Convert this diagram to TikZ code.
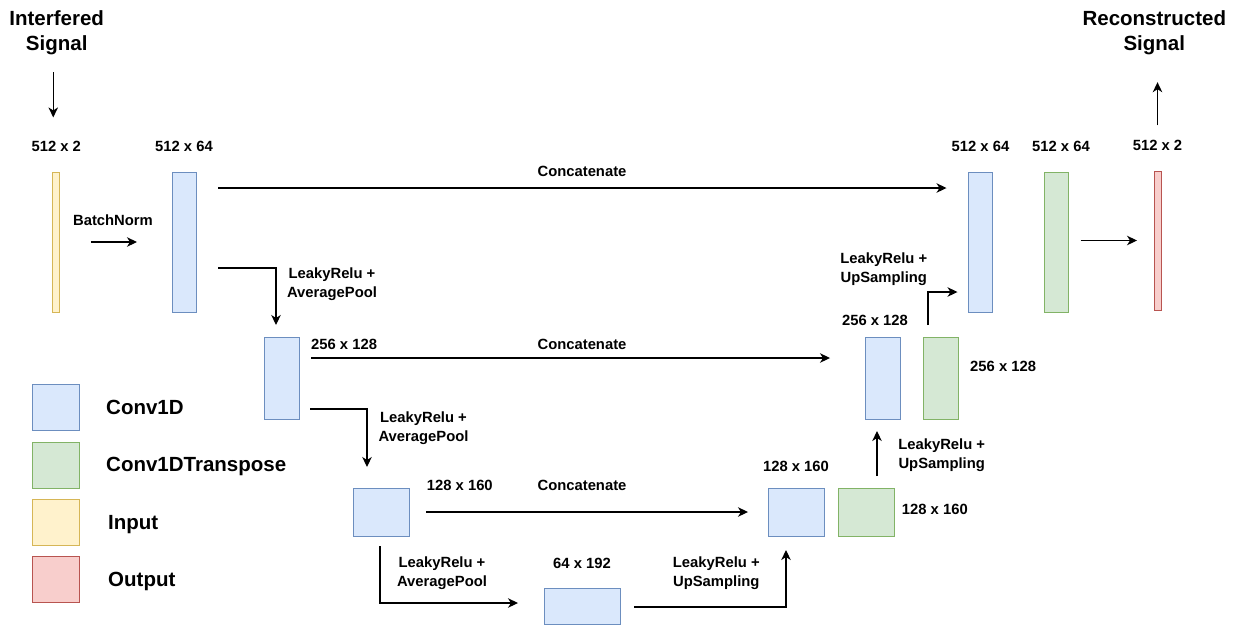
\documentclass[tikz,border=0pt]{standalone}
\usepackage{fontspec}
\setmainfont{Liberation Sans}
\usetikzlibrary{arrows.meta, positioning, calc}

\definecolor{convFill}{HTML}{DAE8FC}
\definecolor{convLine}{HTML}{6C8EBF}
\definecolor{tconvFill}{HTML}{D5E8D4}
\definecolor{tconvLine}{HTML}{82B366}
\definecolor{inFill}{HTML}{FFF2CC}
\definecolor{inLine}{HTML}{D6B656}
\definecolor{outFill}{HTML}{F8CECC}
\definecolor{outLine}{HTML}{B85450}

\begin{document}
\begin{tikzpicture}[
	x=1pt, y=-1pt,
	font=\bfseries,
	% Block styles
	blk/.style={draw, line width=1pt, inner sep=0pt, outer sep=0pt},
	sz/.style 2 args={minimum width=#1pt, minimum height=#2pt},
	conv/.style={blk, draw=convLine, fill=convFill},
	convT/.style={blk, draw=tconvLine, fill=tconvFill},
	inp/.style={blk, draw=inLine, fill=inFill},
	outp/.style={blk, draw=outLine, fill=outFill},
	% Text styles
	mainTitle/.style={font=\fontsize{20.5}{25}\selectfont\bfseries, align=center, inner sep=0pt},
	legend label/.style={font=\fontsize{20.5}{25}\selectfont\bfseries, inner sep=0pt, anchor=west},
	dim label/.style={font=\fontsize{14.8}{19}\selectfont\bfseries, inner sep=0pt},
	term label/.style={dim label, align=center},
	% Connectors
	arr/.style={line width=1.1pt, -{Stealth[length=10pt, width=9.5pt, inset=3pt]}}
	]
	\useasboundingbox (0,0) rectangle (1236,625);
	
	% ==============================================================================
	% ENCODER
	% ==============================================================================
	\node[mainTitle] (TIn) at (56.7,32.5) {Interfered\\Signal};
	
	\node[inp, sz={7}{140}] (In) at (56.25,242) {};
	\node[conv, sz={24}{140}] (E1) at (184,242) {};
	\node[conv, sz={35}{82}] (E2) at (281.5,378) {};
	\node[conv, sz={56}{48}] (E3) at (381,512) {};
	\node[conv, sz={76}{36}] (B) at (582,606) {};
	
	\node[dim label, above=20pt of In] (LIn) {512 x 2};
	\node[dim label, above=20pt of E1] (LE1) {512 x 64};
	\node[dim label, anchor=base west] (LE2) at (311,349.3) {256 x 128};
	\node[dim label, anchor=base west] (LE3) at (426.7,490.3) {128 x 160};
	\node[dim label, above=19.4pt of B] (LB) {64 x 192};
	
	\node[dim label] (LBN) at (113,220) {BatchNorm};
	\node[term label] (P1) at (332,284) {LeakyRelu +\\AveragePool};
	\node[term label] (P2) at (423.5,428.5) {LeakyRelu +\\AveragePool};
	\node[term label] (P3) at (442,573) {LeakyRelu +\\AveragePool};
	
	% ==============================================================================
	% DECODER
	% ==============================================================================
	\node[mainTitle] (TOut) at (1154.3,32.5) {Reconstructed\\Signal};
	
	\node[conv, sz={56}{48}] (D3) at (796,512) {};
	\node[convT, sz={56}{48}, right=14pt of D3] (T3) {};
	\node[conv, sz={35}{82}] (D2) at (882.5,378) {};
	\node[convT, sz={35}{82}, right=23pt of D2] (T2) {};
	\node[conv, sz={24}{140}] (D1) at (980.5,242) {};
	\node[convT, sz={24}{140}] (T1) at (1056.5,242) {};
	\node[outp, sz={7}{139}] (Out) at (1157.5,240.5) {};
	
	\node[dim label, above=16pt of D3] (LD3) {128 x 160};
	\node[dim label, right=7.7pt of T3, yshift=3pt] (LT3) {128 x 160};
	\node[dim label, above=10.7pt of D2, xshift=-7.5pt] (LD2) {256 x 128};
	\node[dim label, right=12pt of T2, yshift=11.3pt] (LT2) {256 x 128};
	\node[dim label, above=20pt of D1] (LD1) {512 x 64};
	\node[dim label, above=20pt of T1, xshift=4.5pt] (LT1) {512 x 64};
	\node[dim label, above=20pt of Out] (LOut) {512 x 2};
	
	\node[term label] (U1) at (716.3,573) {LeakyRelu +\\UpSampling};
	\node[term label] (U2) at (941.7,455) {LeakyRelu +\\UpSampling};
	\node[term label] (U3) at (883.8,269) {LeakyRelu +\\UpSampling};
	
	\node[dim label] (C1) at (582,171) {Concatenate};
	\node[dim label] (C2) at (582,344) {Concatenate};
	\node[dim label] (C3) at (582,485) {Concatenate};
	
	% ==============================================================================
	% CONNECTORS
	% ==============================================================================
	\draw[arr, shorten <=17.4pt, shorten >=23.7pt] ([xshift=-3pt]LIn.north |- TIn.south) -- ([xshift=-3pt]LIn.north);
	\draw[arr, shorten <=31pt, shorten >=35pt] (In) -- (E1);
	\draw[arr, shorten <=22pt, shorten >=22pt] ([yshift=-16pt]E1.north east) -- ([yshift=-16pt]D1.north west);
	\draw[arr, shorten <=22pt, shorten >=12pt] ([yshift=-96pt]E1.north east) -| ([xshift=-5.5pt]E2.north);
	\draw[arr, shorten <=12pt, shorten >=35pt] ([yshift=-21pt]E2.north east) -- ([yshift=-21pt]D2.north west);
	\draw[arr, shorten <=11pt, shorten >=21pt] ([yshift=10pt]E2.south east) -| ([xshift=-14pt]E3.north);
	\draw[arr, shorten <=17pt, shorten >=20pt] (E3) -- (D3);
	\draw[arr, shorten <=10pt, shorten >=26pt] ([xshift=-1pt]E3.south) |- ([yshift=3pt]B.west);
	\draw[arr, shorten <=14pt, shorten >=14pt] ([yshift=-1pt]B.east) -| ([xshift=-10pt]D3.south);
	\draw[arr, shorten <=12pt, shorten >=12pt] ([xshift=11pt]T3.north) -- ([xshift=-5.5pt]D2.south);
	\draw[arr, shorten <=12pt, shorten >=11pt] ([xshift=-12.5pt]T2.north) |- ([yshift=20pt]D1.south west);
	\draw[arr, shorten <=12pt, shorten >=17pt] ([yshift=1.5pt]T1.east) -- ([yshift=1.5pt]T1.east -| Out.west);
	\draw[arr, shorten <=14.7pt, shorten >=27.4pt] (LOut.north) -- (LOut.north |- TOut.south);
	
	% ==============================================================================
	% LEGEND
	% ==============================================================================
	\node[conv, sz={47}{46}] (K1) at (55.5,407) {};
	\node[convT, sz={47}{46}, below=12pt of K1] (K2) {};
	\node[inp, sz={47}{46}, below=11pt of K2] (K3) {};
	\node[outp, sz={47}{46}, below=11pt of K3] (K4) {};
	
	\node[legend label, right=27pt of K1] (LK1) {Conv1D};
	\node[legend label, right=27pt of K2, yshift=-1pt] (LK2) {Conv1DTranspose};
	\node[legend label, right=29pt of K3, yshift=-2.2pt] (LK3) {Input};
	\node[legend label, right=29pt of K4, yshift=-2.2pt] (LK4) {Output};
	
\end{tikzpicture}
\end{document}
